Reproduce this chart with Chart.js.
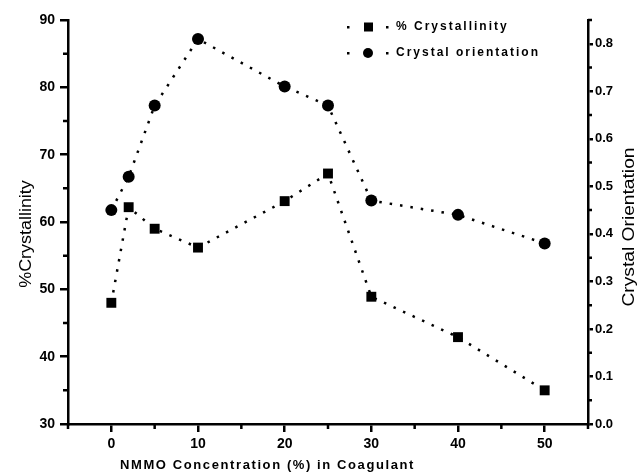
<!DOCTYPE html>
<html>
<head>
<meta charset="utf-8">
<script src="https://cdn.jsdelivr.net/npm/chart.js@4/dist/chart.umd.min.js"></script>
<style>
  html, body { margin: 0; padding: 0; background: #fff; }
  canvas { display: block; }
</style>
</head>
<body>
<canvas id="chart" width="638" height="476"></canvas>
<script>
// data
const nmmo = [0, 2, 5, 10, 20, 25, 30, 40, 50];
const crystallinity = [48, 62.2, 59, 56.2, 63.1, 67.2, 48.9, 42.9, 35];
const orientation = [0.45, 0.52, 0.67, 0.81, 0.71, 0.67, 0.47, 0.44, 0.38];

// axis ticks
const xTicks = [0, 10, 20, 30, 40, 50];
const xMinor = [-5, 5, 15, 25, 35, 45, 55];
const yTicks = [30, 40, 50, 60, 70, 80, 90];
const yMinor = [35, 45, 55, 65, 75, 85];
const y1Ticks = [0, 0.1, 0.2, 0.3, 0.4, 0.5, 0.6, 0.7, 0.8];
const y1Minor = [0.05, 0.15, 0.25, 0.35, 0.45, 0.55, 0.65, 0.75, 0.85];

const FONT = '"Liberation Sans", Arial, sans-serif';
const tickFont = { family: FONT, size: 14, weight: 'bold' };

// minor ticks, axis titles and the legend
const decorations = {
    id: 'decorations',
    afterDraw(chart) {
        const ctx = chart.ctx;
        const { x, y, y1 } = chart.scales;
        ctx.save();
        ctx.strokeStyle = '#000';
        ctx.fillStyle = '#000';
        ctx.lineWidth = 2.5;

        ctx.beginPath();
        xMinor.forEach(v => {
            const px = x.getPixelForValue(v);
            ctx.moveTo(px, x.top);
            ctx.lineTo(px, x.top + 5);
        });
        yMinor.forEach(v => {
            const py = y.getPixelForValue(v);
            ctx.moveTo(y.right, py);
            ctx.lineTo(y.right - 5, py);
        });
        y1Minor.forEach(v => {
            const py = y1.getPixelForValue(v);
            ctx.moveTo(y1.left, py);
            ctx.lineTo(y1.left + 4, py);
        });
        ctx.stroke();

        // axis titles
        ctx.textAlign = 'center';
        ctx.textBaseline = 'middle';
        ctx.font = '16px ' + FONT;

        ctx.save();
        ctx.translate(27, 234);
        ctx.rotate(-Math.PI / 2);
        ctx.scale(1.12, 1);
        ctx.fillText('%Crystallinity', 0, 0);
        ctx.restore();

        ctx.save();
        ctx.translate(630, 227);
        ctx.rotate(-Math.PI / 2);
        ctx.scale(1.2, 1);
        ctx.fillText('Crystal Orientation', 0, 0);
        ctx.restore();

        ctx.textAlign = 'left';
        ctx.font = 'bold 13px ' + FONT;
        ctx.letterSpacing = '1.6px';
        ctx.fillText('NMMO Concentration (%) in Coagulant', 120, 465);

        // legend
        ctx.font = 'bold 12px ' + FONT;
        ctx.letterSpacing = '2px';
        const rows = [
            { text: '% Crystallinity', y: 27, marker: 'rect' },
            { text: 'Crystal orientation', y: 53, marker: 'circle' }
        ];
        rows.forEach(r => {
            ctx.fillRect(347, r.y - 1, 2.5, 2.5);
            ctx.fillRect(386, r.y - 1, 2.5, 2.5);
            if (r.marker === 'rect') {
                ctx.fillRect(364, r.y - 4.5, 9, 9);
            } else {
                ctx.beginPath();
                ctx.arc(368, r.y, 5, 0, Math.PI * 2);
                ctx.fill();
            }
            ctx.fillText(r.text, 396, r.y);
        });
        ctx.restore();
    }
};

const ctx = document.getElementById('chart').getContext('2d');
new Chart(ctx, {
    type: 'line',
    data: {
        datasets: [{
            label: '% Crystallinity',
            data: nmmo.map((v, i) => ({ x: v, y: crystallinity[i] })),
            yAxisID: 'y',
            borderColor: '#000',
            borderWidth: 2.5,
            borderDash: [2.5, 8],
            pointStyle: 'rect',
            pointRadius: 7,
            pointBackgroundColor: '#000',
            pointBorderWidth: 0,
            tension: 0,
            fill: false
        }, {
            label: 'Crystal orientation',
            data: nmmo.map((v, i) => ({ x: v, y: orientation[i] })),
            yAxisID: 'y1',
            borderColor: '#000',
            borderWidth: 2.5,
            borderDash: [2.5, 8],
            pointStyle: 'circle',
            pointRadius: 6,
            pointBackgroundColor: '#000',
            pointBorderWidth: 0,
            tension: 0,
            fill: false
        }]
    },
    options: {
        responsive: false,
        animation: false,
        layout: { padding: { top: 20, left: 0, right: 0, bottom: 0 } },
        plugins: {
            legend: { display: false },
            tooltip: { enabled: false }
        },
        scales: {
            x: {
                type: 'linear',
                min: -5,
                max: 55,
                afterBuildTicks: s => { s.ticks = xTicks.map(v => ({ value: v })); },
                afterFit: s => { s.height = 52; },
                grid: { drawOnChartArea: false, color: '#000', lineWidth: 2.5, tickLength: 8 },
                border: { color: '#000', width: 2.5 },
                ticks: { color: '#000', font: tickFont, padding: 4, maxRotation: 0 }
            },
            y: {
                position: 'left',
                min: 30,
                max: 90,
                afterBuildTicks: s => { s.ticks = yTicks.map(v => ({ value: v })); },
                afterFit: s => { s.width = 68; },
                grid: { drawOnChartArea: false, color: '#000', lineWidth: 2.5, tickLength: 8 },
                border: { color: '#000', width: 2.5 },
                ticks: { color: '#000', font: tickFont, padding: 5 }
            },
            y1: {
                position: 'right',
                min: 0,
                max: 0.85,
                afterBuildTicks: s => { s.ticks = y1Ticks.map(v => ({ value: v })); },
                afterFit: s => { s.width = 50; },
                grid: { drawOnChartArea: false, color: '#000', lineWidth: 2.5, tickLength: 5 },
                border: { color: '#000', width: 2.5 },
                ticks: { color: '#000', font: { family: FONT, size: 13, weight: 'bold' }, padding: 2, callback: v => Number(v).toFixed(1) }
            }
        }
    },
    plugins: [decorations]
});
</script>
</body>
</html>
